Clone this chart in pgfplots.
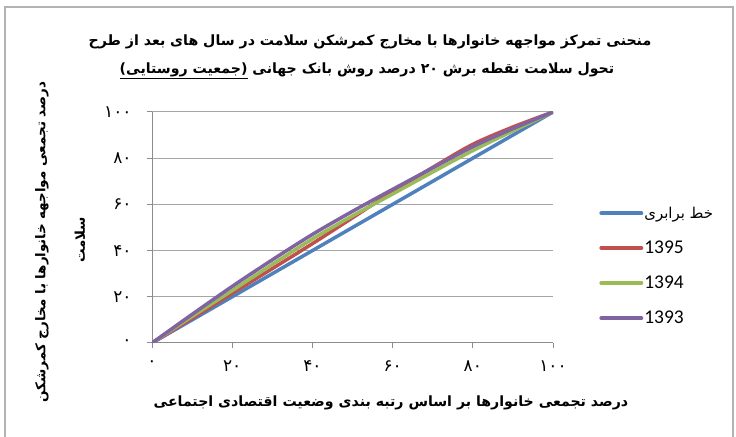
\documentclass[border=0pt]{standalone}
\usepackage{fontspec}
\usepackage{pgfplots}
\pgfplotsset{compat=1.18}
\setmainfont{Carlito}
\newfontfamily\arabicfont[Script=Arabic]{DejaVu Sans}
\TeXXeTstate=1
\definecolor{cblue}{HTML}{4F81BD}
\definecolor{cred}{HTML}{C0504D}
\definecolor{cgreen}{HTML}{9BBB59}
\definecolor{cpurple}{HTML}{8064A2}
\definecolor{gridc}{HTML}{A6A6A6}
\definecolor{axisc}{HTML}{8C8C8C}
\begin{document}
\begin{tikzpicture}[x=1bp,y=1bp]
\useasboundingbox (0,0) rectangle (736,437);
\draw[color=gray!60, line width=1.2bp] (5,-5) -- (5,430) -- (733,430) -- (733,-5);
\begin{axis}[
  at={(152bp,94bp)}, anchor=south west,
  scale only axis, width=401bp, height=231bp,
  xmin=0, xmax=100, ymin=0, ymax=100,
  axis x line*=bottom, axis y line*=left,
  axis line style={color=axisc, line width=1bp, -},
  xtick={0,20,40,60,80,100}, ytick={0,20,40,60,80,100},
  xticklabels={۰,۲۰,۴۰,۶۰,۸۰,۱۰۰},
  yticklabels={۰,۲۰,۴۰,۶۰,۸۰,۱۰۰},
  tick align=outside, major tick length=5bp,
  tick style={color=axisc, line width=1bp},
  ymajorgrids, grid style={color=gridc, line width=1bp},
  tick label style={font=\arabicfont\fontsize{17}{17}\selectfont},
  xticklabel style={yshift=-9bp},
  yticklabel style={xshift=-12bp},
  legend style={draw=none, fill=none, at={(1.115,0.333)}, anchor=west,
    font=\fontsize{19.5}{21}\selectfont, row sep=19bp, inner sep=0pt,
    nodes={inner sep=1bp}},
  legend cell align=left,
  legend image code/.code={\draw[#1, line width=4bp, line cap=round] (0bp,0bp) -- (40bp,0bp);},
]
\addplot[cblue, line width=3.5bp] coordinates {(0,0) (20,20) (40,40) (60,60) (80,80) (100,100)};
\addlegendentry{{\arabicfont\fontsize{15}{18}\selectfont\beginR خط برابری\endR}}
\addplot[cred, line width=3.5bp, smooth] coordinates {(0,0) (10,10.7) (20,21.5) (30,32.2) (40,43) (50,54.2) (60,65.5) (70,76) (80,86) (90,93.5) (100,100)};
\addlegendentry{1395}
\addplot[cgreen, line width=3.5bp, smooth] coordinates {(0,0) (10,11.5) (20,22.7) (30,34) (40,45) (50,55) (60,64.5) (70,74) (80,83.3) (90,91.8) (100,100)};
\addlegendentry{1394}
\addplot[cpurple, line width=3.5bp, smooth] coordinates {(0,0) (10,12.4) (20,24.5) (30,36) (40,47) (50,57) (60,66.5) (70,75.8) (80,85) (90,92.8) (100,100)};
\addlegendentry{1393}
\end{axis}
\node[font=\arabicfont\bfseries\fontsize{14.2}{17}\selectfont] at (370,395) {\beginR منحنی تمرکز مواجهه خانوارها با مخارج کمرشکن سلامت در سال های بعد از طرح\endR};
\node[font=\arabicfont\bfseries\fontsize{14.2}{17}\selectfont] at (367,366) {\beginR تحول سلامت نقطه برش \beginL ۲۰\endL{} درصد روش بانک جهانی \underline{\hbox{\beginR(جمعیت روستایی)\endR}}\endR};
\node[font=\arabicfont\bfseries\fontsize{14.2}{17}\selectfont] at (391,34) {\beginR درصد تجمعی خانوارها بر اساس رتبه بندی وضعیت اقتصادی اجتماعی\endR};
\node[font=\arabicfont\bfseries\fontsize{13.5}{17}\selectfont, rotate=90] at (42,195) {\beginR درصد تجمعی مواجهه خانوارها با مخارج کمرشکن\endR};
\node[font=\arabicfont\bfseries\fontsize{13.5}{17}\selectfont, rotate=90] at (80,197) {\beginR سلامت\endR};
\end{tikzpicture}
\end{document}
